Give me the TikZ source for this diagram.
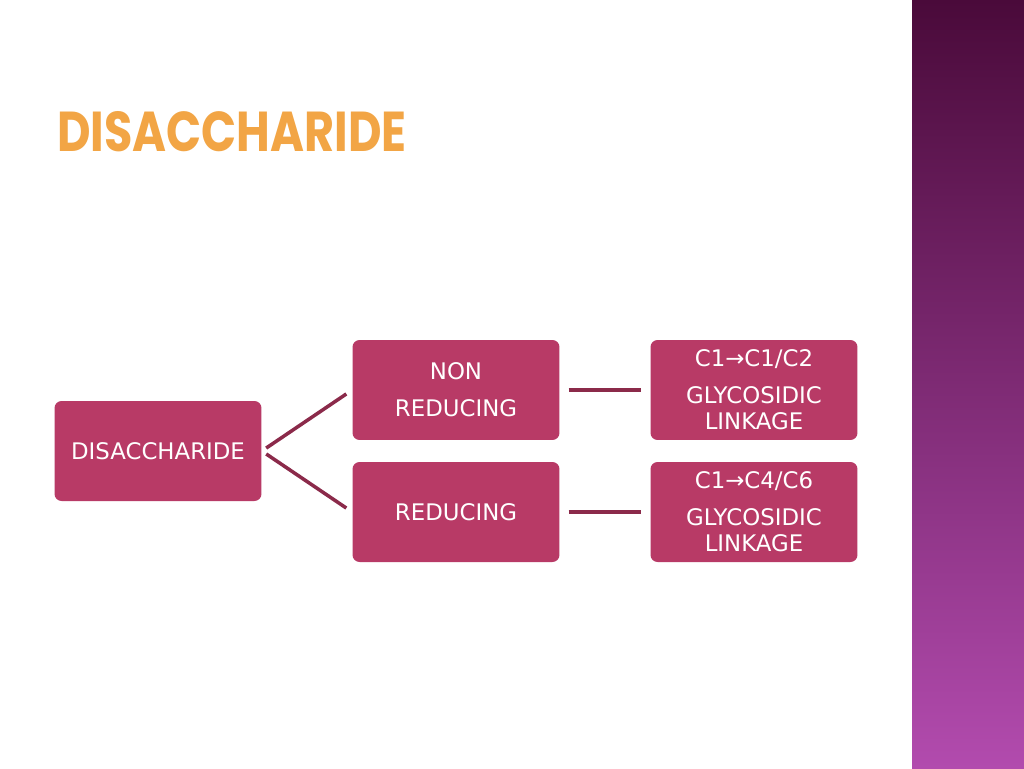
\documentclass[tikz,border=0pt]{standalone}
\usepackage{fontspec}
\setmainfont{DejaVu Sans}
\newfontfamily\titlefont{Poppins}
\usetikzlibrary{positioning}
\definecolor{boxred}{HTML}{B83A66}
\definecolor{linered}{HTML}{8B2A4A}
\definecolor{bartop}{HTML}{4A0A3A}
\definecolor{barbot}{HTML}{B24BAE}
\definecolor{titleorange}{HTML}{F2A545}
\tikzset{
  box/.style={draw=none, fill=boxred, rounded corners=4pt, minimum width=4.14cm,
    minimum height=2cm, text=white, align=center, font=\fontsize{13}{17}\selectfont},
  link/.style={draw=linered, line width=2pt}
}
\begin{document}
\begin{tikzpicture}[x=0.02cm, y=-0.02cm]
  \useasboundingbox (0,0) rectangle (1024,768);
  % background and side bar
  \fill[white] (0,0) rectangle (1024,768);
  \shade[top color=bartop, bottom color=barbot] (912,0) rectangle (1024,768);
  % title
  \node[anchor=west, xscale=0.82, inner sep=0pt, text=titleorange, font=\titlefont\bfseries\fontsize{32}{38}\selectfont] (title) at (57,132) {DISACCHARIDE};
  % diagram
  \node[box] (dis) at (158,451) {DISACCHARIDE};
  \node[box] (non) at (456,390) {NON\\[4pt]REDUCING};
  \node[box] (red) at (456,512) {REDUCING};
  \node[box, font=\fontsize{13}{15}\selectfont] (lnon) at (754,390) {C1→C1/C2\\[6pt]GLYCOSIDIC\\LINKAGE};
  \node[box, font=\fontsize{13}{15}\selectfont] (lred) at (754,512) {C1→C4/C6\\[6pt]GLYCOSIDIC\\LINKAGE};
  \draw[link, shorten <=3pt, shorten >=4pt] (dis.east) -- (non.west);
  \draw[link, shorten <=3pt, shorten >=4pt] (dis.east) -- (red.west);
  \draw[link, shorten <=5pt, shorten >=5pt] (non.east) -- (lnon.west);
  \draw[link, shorten <=5pt, shorten >=5pt] (red.east) -- (lred.west);
\end{tikzpicture}
\end{document}
